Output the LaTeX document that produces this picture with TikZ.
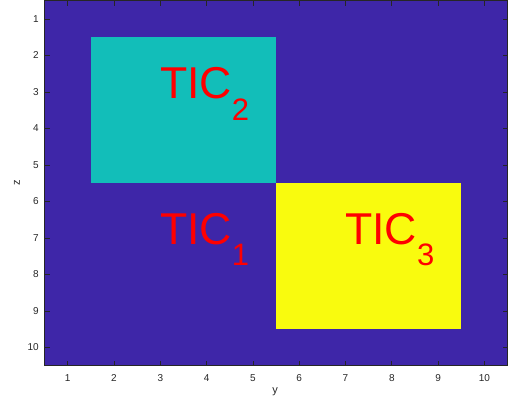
\documentclass[tikz,border=0pt]{standalone}
\usepackage{fontspec}
\setmainfont{Liberation Sans}
\definecolor{bgpurple}{HTML}{3E26A8}
\definecolor{teal2}{HTML}{12BEB9}
\definecolor{yell}{HTML}{F9FB0E}
\definecolor{axgrey}{HTML}{262626}
\begin{document}
\begin{tikzpicture}[x=46.3pt,y=-36.5pt,
  ticklab/.style={inner sep=0pt,text=axgrey,font=\fontsize{10}{12}\selectfont},
  axlab/.style={inner sep=0pt,text=axgrey,font=\fontsize{11}{13}\selectfont},
  ticlab/.style={inner sep=0pt,anchor=base west,text=red,font=\fontsize{44.6}{50}\selectfont},
  tickmark/.style={draw=axgrey,line width=0.6pt}]
\useasboundingbox (-0.4622,0.4795) rectangle (10.510,11.5205);
% background image
\fill[bgpurple] (0.5,0.5) rectangle (10.5,10.5);
\fill[teal2] (1.5,1.5) rectangle (5.5,5.5);
\fill[yell] (5.5,5.5) rectangle (9.5,9.5);
% texts
\newcommand{\ticsub}[1]{\raisebox{-21.5pt}{\fontsize{31}{31}\selectfont #1}}
\node[ticlab] (t2) at (2.99,3.19) {TIC\ticsub{2}};
\node[ticlab] (t1) at (2.99,7.17) {TIC\ticsub{1}};
\node[ticlab] (t3) at (6.99,7.17) {TIC\ticsub{3}};
% ticks
\foreach \i in {1,...,10}{
  \draw[tickmark] (\i,10.5) -- ++(0,5pt);
  \draw[tickmark] (\i,0.5) -- ++(0,-5pt);
  \draw[tickmark] (0.5,\i) -- ++(5pt,0);
  \draw[tickmark] (10.5,\i) -- ++(-5pt,0);
  \node[ticklab,anchor=center] (xl\i) at (\i,10.836) {\i};
  \node[ticklab,anchor=east] (yl\i) at (0.38,\i) {\i};
}
% axes box
\draw[axgrey,line width=0.8pt] (0.5,0.5) rectangle (10.5,10.5);
\node[axlab] (ylab) at (5.48,11.22) {y};
\node[axlab,rotate=90] (zlab) at (-0.095,5.49) {z};
\end{tikzpicture}
\end{document}
